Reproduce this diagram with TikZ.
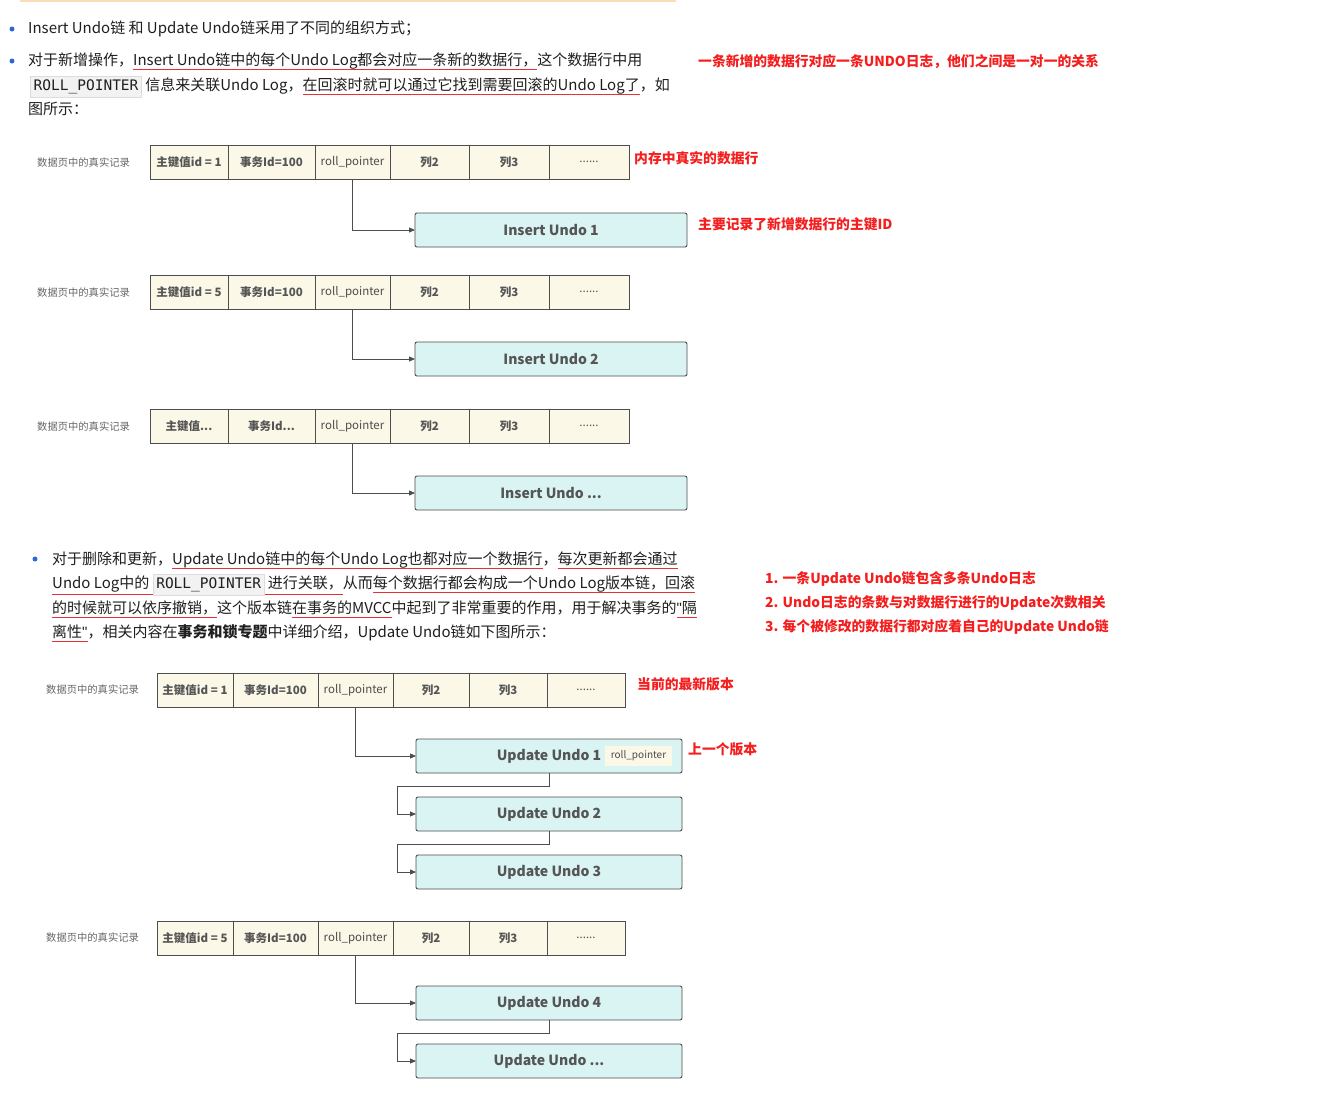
\documentclass[tikz,border=0pt]{standalone}
\usepackage{fontspec}
\setmainfont{Noto Sans CJK SC}
\setmonofont{DejaVu Sans Mono}
\usetikzlibrary{arrows.meta,calc}
\definecolor{cellfill}{HTML}{FCF8E8}
\definecolor{undofill}{HTML}{DAF3F3}
\definecolor{bordercol}{HTML}{4D4D4D}
\definecolor{txtgrey}{HTML}{555555}
\definecolor{lblgrey}{HTML}{666666}
\definecolor{notered}{HTML}{F51E1E}
\definecolor{ulred}{HTML}{E8303A}
\definecolor{bulletblue}{HTML}{2F66DB}
\definecolor{bodytext}{HTML}{1F1F1F}
\definecolor{codebg}{HTML}{F2F2F2}
\definecolor{codeborder}{HTML}{DDDDDD}
\definecolor{topline}{HTML}{F9DDB5}
\newsavebox\ulbox
\newcommand\redul[2][4pt]{\sbox\ulbox{#2}\rlap{\textcolor{ulred}{\rule[-#1]{\wd\ulbox}{0.9pt}}}\usebox\ulbox}
\newcommand\codebox[1]{{\setlength\fboxsep{3pt}\setlength\fboxrule{0.5pt}\fcolorbox{codeborder}{codebg}{\ttfamily\fontsize{14.5}{16}\selectfont #1}}}
\newcommand\sq{{\fontspec{Liberation Sans}\char34}}
\newcommand\cwA{78}\newcommand\cwB{87}\newcommand\cwD{79}\newcommand\cwE{80}\newcommand\cwF{80}
\newcommand\mkrow[5]{%
 \node[cell, minimum width=\cwA, anchor=north west] (#1a) at (#2,#3) {#4};
 \node[cell, minimum width=\cwB, anchor=north west] (#1b) at (#1a.north east) {#5};
 \node[cell, minimum width=75, anchor=north west, font=\fontsize{11.5}{13}\selectfont, text=bodytext!80] (#1c) at (#1b.north east) {roll\_pointer};
 \node[cell, minimum width=\cwD, anchor=north west] (#1d) at (#1c.north east) {列2};
 \node[cell, minimum width=\cwE, anchor=north west] (#1e) at (#1d.north east) {列3};
 \node[cell, minimum width=\cwF, anchor=north west, font=\fontsize{11.5}{13}\selectfont] (#1f) at (#1e.north east) {......};
}
\tikzset{
 cell/.style={draw=bordercol, line width=0.8pt, fill=cellfill, minimum height=34, inner sep=0pt, outer sep=0pt, text=txtgrey, font=\fontsize{11.5}{13}\selectfont\bfseries},
 undo/.style={draw=bordercol, line width=0.9pt, fill=undofill, rounded corners=2pt, minimum width=272, minimum height=34, inner sep=0pt, outer sep=0pt, text=txtgrey, font=\fontsize{14}{16}\selectfont\bfseries},
 tag/.style={fill=cellfill, minimum width=67, minimum height=20, inner sep=0pt, text=bodytext!80, font=\fontsize{10}{12}\selectfont},
 lbl/.style={anchor=west, inner sep=0pt, text=lblgrey, font=\fontsize{10.3}{12}\selectfont},
 note/.style={anchor=west, inner sep=0pt, text=notered, font=\fontsize{13.8}{16}\selectfont\bfseries},
 body/.style={anchor=base west, inner sep=0pt, text=bodytext, font=\fontsize{15}{18}\selectfont},
 bul/.style={circle, fill=bulletblue, inner sep=0pt, minimum size=5},
 conn/.style={draw=bordercol, line width=0.8pt, -{Triangle[length=6pt,width=5pt]}},
}
\begin{document}
\begin{tikzpicture}[x=1pt,y=-1pt]
\useasboundingbox[fill=white] (0,0) rectangle (1321,1101);
\draw[topline, line width=2pt] (20,0.5) -- (676,0.5);

% ---------- bullet 1 and 2 ----------
\node[bul] (b1) at (12,29) {};
\node[body] (t1) at (28,33.5) {Insert Undo链 和 Update Undo链采用了不同的组织方式；};
\node[bul] (b2) at (12,61) {};
\node[body] (t2a) at (28,65.5) {对于新增操作，\redul{Insert Undo链中的每个Undo Log都会对应一条新的数据行，}这个数据行中用};
\node[body] (t2b) at (30,90.5) {\redul[6pt]{\codebox{ROLL\_POINTER}} 信息来关联Undo Log，\redul{在回滚时就可以通过它找到需要回滚的Undo Log了}，如};
\node[body] (t2c) at (28,114.5) {图所示：};
\node[note] (n1) at (698,62) {一条新增的数据行对应一条UNDO日志，他们之间是一对一的关系};

% ---------- insert undo diagram ----------
\node[lbl] (l1) at (37,163) {数据页中的真实记录};
\mkrow{r1}{150}{145}{主键值id = 1}{事务Id=100}
\node[note] (n2) at (634,158) {内存中真实的数据行};
\node[undo] (iu1) at (551,230) {Insert Undo 1};
\node[note] (n3) at (698,224) {主要记录了新增数据行的主键ID};
\draw[conn] (r1c.south) |- (iu1.west);

\node[lbl] (l2) at (37,293) {数据页中的真实记录};
\mkrow{r2}{150}{275}{主键值id = 5}{事务Id=100}
\node[undo] (iu2) at (551,359) {Insert Undo 2};
\draw[conn] (r2c.south) |- (iu2.west);

\node[lbl] (l3) at (37,427) {数据页中的真实记录};
\mkrow{r3}{150}{409}{主键值...}{事务Id...}
\node[undo] (iu3) at (551,493) {Insert Undo ...};
\draw[conn] (r3c.south) |- (iu3.west);

% ---------- bullet 3 ----------
\node[bul] (b3) at (35,559) {};
\node[body] (t3a) at (52,564.5) {对于删除和更新，\redul{Update Undo链中的每个Undo Log也都对应一个数据行}，\redul{每次更新都会通过}};
\node[body] (t3b) at (52,588.5) {\redul[6pt]{Undo Log中的 \codebox{ROLL\_POINTER} 进行关联，}从而\redul{每个数据行都会构成一个Undo Log版本链，}\redul{回滚}};
\node[body] (t3c) at (52,613.5) {\redul{的时候就可以依序撤销，}这个版本链\redul{在事务的MVCC}中起到了非常重要的作用，用于解决事务的\redul{\sq 隔}};
\node[body] (t3d) at (52,637.5) {\redul{离性\sq}，相关内容在\textbf{事务和锁专题}中详细介绍，Update Undo链如下图所示：};

\node[note] (n6) at (765,579) {1. 一条Update Undo链包含多条Undo日志};
\node[note] (n7) at (765,603) {2. Undo日志的条数与对数据行进行的Update次数相关};
\node[note] (n8) at (765,627) {3. 每个被修改的数据行都对应着自己的Update Undo链};

% ---------- update undo diagram ----------
\renewcommand\cwA{76}\renewcommand\cwB{85}\renewcommand\cwD{76}\renewcommand\cwE{78}\renewcommand\cwF{78}
\node[lbl] (l4) at (46,690) {数据页中的真实记录};
\mkrow{r4}{157}{673}{主键值id = 1}{事务Id=100}
\node[note] (n4) at (637,684) {当前的最新版本};
\node[undo, minimum width=266] (uu1) at (549,756) {Update Undo 1};
\node[tag] (uu1t) at (638.5,756) {roll\_pointer};
\node[note] (n5) at (688,749) {上一个版本};
\node[undo, minimum width=266] (uu2) at (549,814) {Update Undo 2};
\node[undo, minimum width=266] (uu3) at (549,872) {Update Undo 3};
\draw[conn] (r4c.south) |- (uu1.west);
\draw[conn] (uu1.south) -- ++(0,13) -| ([xshift=-19pt]uu2.west) -- (uu2.west);
\draw[conn] (uu2.south) -- ++(0,13) -| ([xshift=-19pt]uu3.west) -- (uu3.west);

\node[lbl] (l5) at (46,938) {数据页中的真实记录};
\mkrow{r5}{157}{921}{主键值id = 5}{事务Id=100}
\node[undo, minimum width=266] (uu4) at (549,1003) {Update Undo 4};
\node[undo, minimum width=266] (uu5) at (549,1061) {Update Undo ...};
\draw[conn] (r5c.south) |- (uu4.west);
\draw[conn] (uu4.south) -- ++(0,13) -| ([xshift=-19pt]uu5.west) -- (uu5.west);
\end{tikzpicture}
\end{document}
